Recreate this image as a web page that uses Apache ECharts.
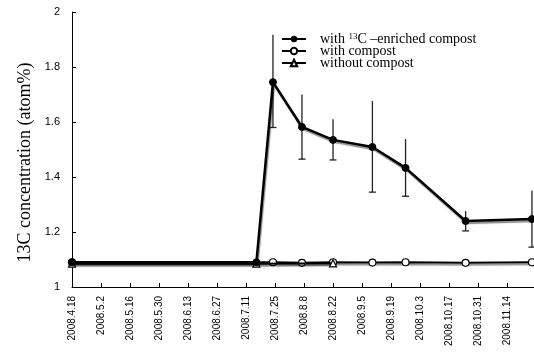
<!DOCTYPE html>
<html>
<head>
<meta charset="utf-8">
<script src="https://cdn.jsdelivr.net/npm/echarts@6/dist/echarts.min.js"></script>
<style>
  html, body { margin: 0; padding: 0; background: #fff; }
  #main { width: 534px; height: 360px; }
</style>
</head>
<body>
<div id="main"></div>
<script>
var myChart = echarts.init(document.getElementById('main'));

// days counted from 2008.4.18
var tickLabels = ['2008.4.18', '2008.5.2', '2008.5.16', '2008.5.30', '2008.6.13', '2008.6.27', '2008.7.11',
  '2008.7.25', '2008.8.8', '2008.8.22', '2008.9.5', '2008.9.19', '2008.10.3', '2008.10.17', '2008.10.31', '2008.11.14'];

var enrichedDays = [0, 89, 97, 111, 126, 145, 161, 190, 222];
var enrichedVals = [1.09, 1.09, 1.745, 1.582, 1.535, 1.509, 1.433, 1.24, 1.247];

var errDays = [97, 111, 126, 145, 161, 190, 222];
var errLow = [1.58, 1.465, 1.462, 1.345, 1.33, 1.204, 1.145];
var errHigh = [1.917, 1.70, 1.61, 1.676, 1.538, 1.276, 1.35];

var compostDays = [0, 97, 111, 126, 145, 161, 190, 222];
var compostVals = [1.09, 1.09, 1.088, 1.09, 1.089, 1.09, 1.088, 1.09];

var noCompostDays = [0, 89, 126];
var noCompostVals = [1.085, 1.085, 1.086];

function pairs(xs, ys) {
  return xs.map(function (x, i) { return [x, ys[i]]; });
}

var shadowLine = {
  shadowColor: 'rgba(0,0,0,0.45)',
  shadowBlur: 1,
  shadowOffsetX: 1,
  shadowOffsetY: 2
};

option = {
  animation: false,
  grid: { left: 72, top: 12, right: 0, bottom: 73 },
  legend: {
    orient: 'vertical',
    left: 276,
    top: 27,
    itemWidth: 24,
    itemHeight: 8,
    itemGap: -2,
    data: ['enriched', 'with compost', 'without compost'],
    formatter: function (name) {
      if (name === 'enriched') return '{t|with }{s|13}{t|C –enriched compost}';
      return '{t|' + name + '}';
    },
    textStyle: {
      color: '#000',
      fontFamily: 'Liberation Serif',
      fontSize: 14,
      lineHeight: 14,
      padding: [0, 0, 0, 9],
      rich: {
        t: { fontFamily: 'Liberation Serif', fontSize: 14, lineHeight: 14, color: '#000' },
        s: { fontFamily: 'Liberation Serif', fontSize: 9, lineHeight: 8, color: '#000', verticalAlign: 'top' }
      }
    }
  },
  xAxis: {
    type: 'value',
    min: 0,
    max: 223,
    interval: 14,
    splitLine: { show: false },
    axisLine: { lineStyle: { color: '#000', width: 1 } },
    axisTick: { inside: true, length: 4, lineStyle: { color: '#000' } },
    axisLabel: {
      rotate: 90,
      margin: 9,
      showMaxLabel: false,
      fontFamily: 'Liberation Sans',
      fontSize: 10,
      color: '#000',
      formatter: function (v) { return tickLabels[Math.round(v / 14)] || ''; }
    }
  },
  yAxis: {
    type: 'value',
    min: 1,
    max: 2,
    interval: 0.2,
    splitLine: { show: false },
    axisLine: { show: true, lineStyle: { color: '#000', width: 1 } },
    axisTick: { show: true, inside: true, length: 4, lineStyle: { color: '#000' } },
    axisLabel: {
      margin: 12,
      fontFamily: 'Liberation Sans',
      fontSize: 11,
      color: '#000',
      formatter: function (v) { return String(Math.round(v * 10) / 10); }
    },
    name: '13C concentration (atom%)',
    nameLocation: 'middle',
    nameGap: 38,
    nameTextStyle: { fontFamily: 'Liberation Serif', fontSize: 18, color: '#000', padding: [0, 26, 0, 0] }
  },
  series: [
    {
      name: 'with compost',
      type: 'line',
      data: pairs(compostDays, compostVals),
      symbol: 'circle',
      symbolSize: 7,
      itemStyle: { color: '#fff', borderColor: '#000', borderWidth: 1.2 },
      lineStyle: Object.assign({ color: '#000', width: 2 }, shadowLine),
      z: 2
    },
    {
      name: 'without compost',
      type: 'line',
      data: pairs(noCompostDays, noCompostVals),
      symbol: 'triangle',
      symbolSize: 7,
      itemStyle: { color: '#fff', borderColor: '#000', borderWidth: 1.2 },
      lineStyle: Object.assign({ color: '#000', width: 2 }, shadowLine),
      z: 3
    },
    {
      name: 'err',
      type: 'custom',
      data: errDays.map(function (d, i) { return [d, errLow[i], errHigh[i]]; }),
      renderItem: function (params, api) {
        var lo = api.coord([api.value(0), api.value(1)]);
        var hi = api.coord([api.value(0), api.value(2)]);
        var style = { stroke: '#222', lineWidth: 1.3 };
        return {
          type: 'group',
          children: [
            { type: 'line', shape: { x1: hi[0], y1: hi[1], x2: lo[0], y2: lo[1] }, style: style },
            { type: 'line', shape: { x1: lo[0] - 3.5, y1: lo[1], x2: lo[0] + 3.5, y2: lo[1] }, style: style }
          ]
        };
      },
      clip: false,
      z: 4
    },
    {
      name: 'enriched',
      type: 'line',
      data: pairs(enrichedDays, enrichedVals),
      symbol: 'circle',
      symbolSize: 7,
      itemStyle: { color: '#000', borderColor: '#000' },
      lineStyle: Object.assign({ color: '#000', width: 2.5 }, shadowLine),
      z: 5
    }
  ]
};

myChart.setOption(option);
</script>
</body>
</html>
